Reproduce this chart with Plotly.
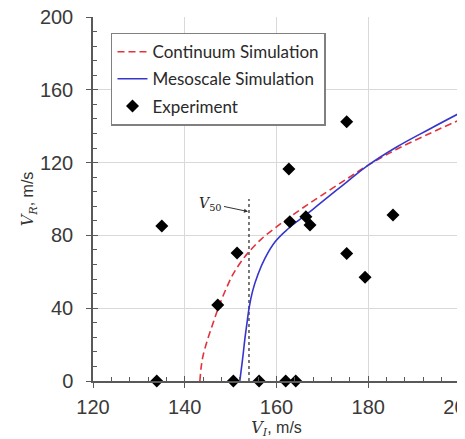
import plotly.graph_objects as go

# ---- data ----
exp_vi = [135.0, 133.9, 147.2, 151.4, 150.6, 156.2, 162.0, 164.2, 162.7, 162.9,
          166.4, 167.3, 175.3, 175.3, 179.3, 185.4]
exp_vr = [85.2, 0, 41.8, 70.3, 0, 0, 0, 0, 116.5, 87.5,
          90.3, 85.7, 142.5, 70.1, 57.0, 91.2]

cont_vi = [143.3, 143.6, 144.0, 145.0, 146.2, 147.3, 148.9, 150.6, 152.7, 154.0,
           156.7, 160.7, 165.1, 169.4, 175.3, 180.0, 186.2, 193.4, 200.0]
cont_vr = [0, 8, 14, 23, 32, 40, 50, 59, 67, 71,
           78, 86, 94, 101.3, 111.0, 118.6, 127.3, 136.0, 143.6]

meso_vi = [152.0, 152.3, 152.7, 153.1, 153.55, 154.05, 154.8, 155.95, 157.5, 159.7,
           162.6, 165.3, 168.0, 171.6, 175.3, 180.0, 186.2, 193.4, 200.0]
meso_vr = [0, 6, 14, 23, 31.5, 40.5, 49.5, 58.5, 67.5, 76.5,
           83.8, 89.2, 94.5, 101.8, 109.3, 118.6, 128.6, 138.5, 147.3]

v50_vi = [154.0, 154.0]
v50_vr = [0, 100]

x_ticks = [120, 140, 160, 180, 200]
y_ticks = [0, 40, 80, 120, 160, 200]

AX = "#595959"
GRID = "#d9d9d9"
SERIF = "DejaVu Serif"
SANS = "Liberation Sans, Arial, sans-serif"

fig = go.Figure()

fig.add_trace(go.Scatter(x=v50_vi, y=v50_vr, mode="lines", showlegend=False,
                         line=dict(color="#222222", width=1.2, dash="dot"),
                         hoverinfo="skip"))
fig.add_trace(go.Scatter(x=cont_vi, y=cont_vr, mode="lines", name="Continuum Simulation",
                         legendgroup="a",
                         line=dict(color="#e0333c", width=1.6, dash="7px,4px", shape="spline",
                                   smoothing=1.0)))
fig.add_trace(go.Scatter(x=meso_vi, y=meso_vr, mode="lines", name="Mesoscale Simulation",
                         legendgroup="b",
                         line=dict(color="#3636cc", width=1.6, shape="spline", smoothing=1.2)))
fig.add_trace(go.Scatter(x=exp_vi, y=exp_vr, mode="markers", name="Experiment",
                         legendgroup="c",
                         marker=dict(symbol="diamond", size=10, color="black"),
                         cliponaxis=False))

tickfont = dict(family=SANS, size=20, color="#3a3a3a")

# the page adds an 8 px body margin, so the figure is made 8 px smaller
fig.update_layout(
    width=457, height=431,
    margin=dict(l=85, r=5, t=9, b=58),
    paper_bgcolor="white", plot_bgcolor="white",
    showlegend=True,
    legend=dict(x=0.049, y=0.957, xanchor="left", yanchor="top",
                bgcolor="white", bordercolor="#808080", borderwidth=1.5,
                font=dict(family="Lato, Open Sans, sans-serif", size=17, color="#2a2a2a"),
                itemwidth=30, tracegroupgap=2),
    xaxis=dict(range=[120, 200], tickvals=x_ticks, showgrid=True, gridcolor=GRID,
               gridwidth=1, zeroline=False, showline=True, linecolor=AX, linewidth=1.5,
               ticks="outside", ticklen=5, tickwidth=1.2, tickcolor=AX,
               tickfont=tickfont, automargin=False, ticklabelstandoff=2,
               ticklabeloverflow="allow",
               title=dict(text="<span style='font-family:DejaVu Serif'><i>V<sub>I</sub></i></span>, m/s",
                          font=dict(family=SANS, size=16, color="#333333"),
                          standoff=4)),
    yaxis=dict(range=[0, 200], tickvals=y_ticks, showgrid=True, gridcolor=GRID,
               gridwidth=1, zeroline=False, showline=True, linecolor=AX, linewidth=1.5,
               ticks="outside", ticklen=5, tickwidth=1.2, tickcolor=AX,
               tickfont=tickfont, automargin=False, ticklabelstandoff=9,
               ticklabeloverflow="allow",
               title=dict(text="<span style='font-family:DejaVu Serif'><i>V<sub>R</sub></i></span>, m/s",
                          font=dict(family=SANS, size=16, color="#333333"),
                          standoff=2)),
    xaxis2=dict(overlaying="x", matches="x", range=[120, 200], tickvals=x_ticks,
                showticklabels=False, showgrid=False, zeroline=False, showline=False,
                ticks="inside", ticklen=5, tickwidth=1.2, tickcolor=AX, side="bottom",
                automargin=False,
                minor=dict(dtick=4, tick0=120, ticks="inside", ticklen=4, tickwidth=1,
                           tickcolor=AX, showgrid=False)),
    yaxis2=dict(overlaying="y", matches="y", range=[0, 200], tickvals=y_ticks,
                showticklabels=False, showgrid=False, zeroline=False, showline=False,
                ticks="inside", ticklen=5, tickwidth=1.2, tickcolor=AX, side="left",
                automargin=False,
                minor=dict(dtick=8, tick0=0, ticks="inside", ticklen=4, tickwidth=1,
                           tickcolor=AX, showgrid=False)),
    annotations=[dict(x=154, y=93, xref="x", yref="y",
                      text="<i>V</i><sub>50</sub>",
                      font=dict(family=SERIF, size=14, color="#222222"),
                      showarrow=True, arrowhead=2, arrowsize=0.8, arrowwidth=1,
                      arrowcolor="#333333", ax=-38, ay=-8, standoff=1)],
)

# invisible trace to activate the overlay axes
fig.add_trace(go.Scatter(x=[120], y=[0], xaxis="x2", yaxis="y2", mode="markers",
                         marker=dict(opacity=0), showlegend=False, hoverinfo="skip"))

fig.write_html("out.html")
